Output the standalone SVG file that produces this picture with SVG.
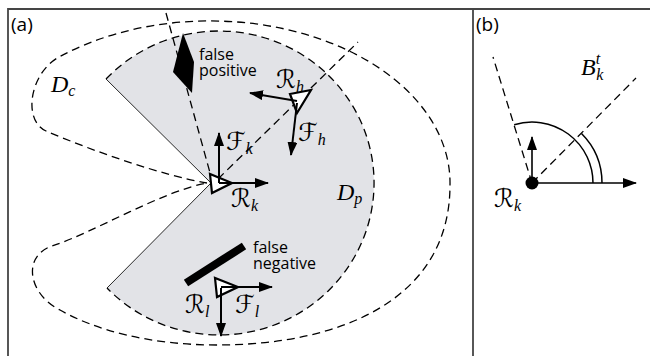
<svg xmlns="http://www.w3.org/2000/svg" width="650" height="356" viewBox="0 0 650 356">
<style>
.frame{fill:none;stroke:#454545;stroke-width:1.8}
.dash{fill:none;stroke:#000;stroke-width:1.3;stroke-dasharray:8,5}
.edge{fill:none;stroke:#111;stroke-width:0.9}
.ax{fill:none;stroke:#000;stroke-width:2;marker-end:url(#ah)}
.axb{fill:none;stroke:#000;stroke-width:1.6;marker-end:url(#ah)}
.robot{fill:#fff;stroke:#000;stroke-width:2.2;stroke-linejoin:miter}
.lbl{font-family:"Open Sans","DejaVu Sans",sans-serif;font-size:16px;fill:#000}
.pl{font-family:"Open Sans","DejaVu Sans",sans-serif;font-size:19px;fill:#000}
.m{font-family:"Liberation Serif","DejaVu Serif",serif;font-style:italic;font-size:24px;fill:#000}
.cal{font-family:"DejaVu Serif","DejaVu Sans",serif;font-size:25px;fill:#000}
.sub{font-family:"Liberation Serif","DejaVu Serif",serif;font-style:italic;font-size:16px}
</style>
<defs>
<marker id="ah" markerUnits="userSpaceOnUse" markerWidth="14" markerHeight="10" refX="13" refY="5" orient="auto">
<path d="M0,0 L14,5 L0,10 z" fill="#000"/>
</marker>
</defs>
<rect width="650" height="356" fill="#fff"/>
<g id="frame">
<path class="frame" d="M8,356 L8,9 L650,9"/>
<line class="frame" x1="473" y1="9" x2="473" y2="356"/>
</g>
<g id="region-Dc">
<path class="dash" d="M207,183 C165,176 95,152 46,131 C22,120 30,72 60,56.5 A240,162 0 0 1 450,185 C450,300 340,345 217,345 C150,345 95,330 60,310 C28,294 22,256 52,246 C95,232 160,192 207,183"/>
</g>
<g id="region-Dp">
<path d="M106,79 A155,152 0 1 1 107,288 L211,183 Z" fill="#e2e3e7"/>
<path class="dash" d="M106,79 A155,152 0 1 1 107,288"/>
<path class="edge" d="M106,79 L211,183 L107,288"/>
</g>
<g id="connectors">
<line class="dash" x1="166" y1="13" x2="212" y2="180"/>
<line class="dash" x1="218" y1="179" x2="358" y2="42"/>
<line class="dash" x1="532" y1="183" x2="493" y2="57"/>
<line class="dash" x1="532" y1="183" x2="636" y2="78"/>
</g>
<g id="false-positive">
<polygon points="183,33 194,62 192,93 173,72" fill="#000"/>
<text class="lbl" x="199" y="60">false<tspan x="199" dy="16">positive</tspan></text>
</g>
<g id="false-negative">
<line x1="186" y1="283" x2="244" y2="246" stroke="#000" stroke-width="8"/>
<text class="lbl" x="253" y="253">false<tspan x="253" dy="16">negative</tspan></text>
</g>
<g id="robot-k">
<polygon class="robot" points="210,174 212,193 232,183"/>
<line class="ax" x1="219" y1="183" x2="219" y2="133"/>
<line class="ax" x1="219" y1="183" x2="268" y2="183"/>
<text class="cal" x="231" y="207">ℛ<tspan class="sub" dy="4">k</tspan></text>
<text class="cal" x="226" y="150">ℱ<tspan class="sub" dy="4">k</tspan></text>
</g>
<g id="robot-h">
<polygon class="robot" points="290,94 311,90 297,113"/>
<line class="ax" x1="297" y1="101" x2="250" y2="93"/>
<line class="ax" x1="297" y1="103" x2="291" y2="155"/>
<text class="cal" x="276" y="88">ℛ<tspan class="sub" dy="4">h</tspan></text>
<text class="cal" x="298" y="141">ℱ<tspan class="sub" dy="4">h</tspan></text>
</g>
<g id="robot-l">
<polygon class="robot" points="215,278 217,297 238,287"/>
<line class="ax" x1="221" y1="287" x2="272" y2="287"/>
<line class="ax" x1="221" y1="288" x2="221" y2="336"/>
<text class="cal" x="185" y="313">ℛ<tspan class="sub" dy="4">l</tspan></text>
<text class="cal" x="235" y="313">ℱ<tspan class="sub" dy="4">l</tspan></text>
</g>
<g id="labels-a">
<text class="pl" x="11" y="31">(a)</text>
<text class="m" x="51" y="92">D<tspan class="sub" dy="4">c</tspan></text>
<text class="m" x="337" y="200">D<tspan class="sub" dy="4">p</tspan></text>
</g>
<g id="panel-b">
<text class="pl" x="476" y="31">(b)</text>
<path fill="none" stroke="#000" stroke-width="1.5" d="M514.2,124.7 A61,61 0 0 1 593,183"/>
<path fill="none" stroke="#000" stroke-width="1.5" d="M581.5,133.5 A70,70 0 0 1 602,183"/>
<line class="axb" x1="532" y1="183" x2="532" y2="137"/>
<line class="axb" x1="532" y1="183" x2="636" y2="183"/>
<circle cx="532" cy="183" r="6.5" fill="#000"/>
<text class="cal" x="494" y="207">ℛ<tspan class="sub" dy="4">k</tspan></text>
<text class="m" x="581" y="75">B<tspan class="sub" font-size="15" dy="-11">t</tspan><tspan class="sub" font-size="15" dx="-4" dy="16">k</tspan></text>
</g>
</svg>
